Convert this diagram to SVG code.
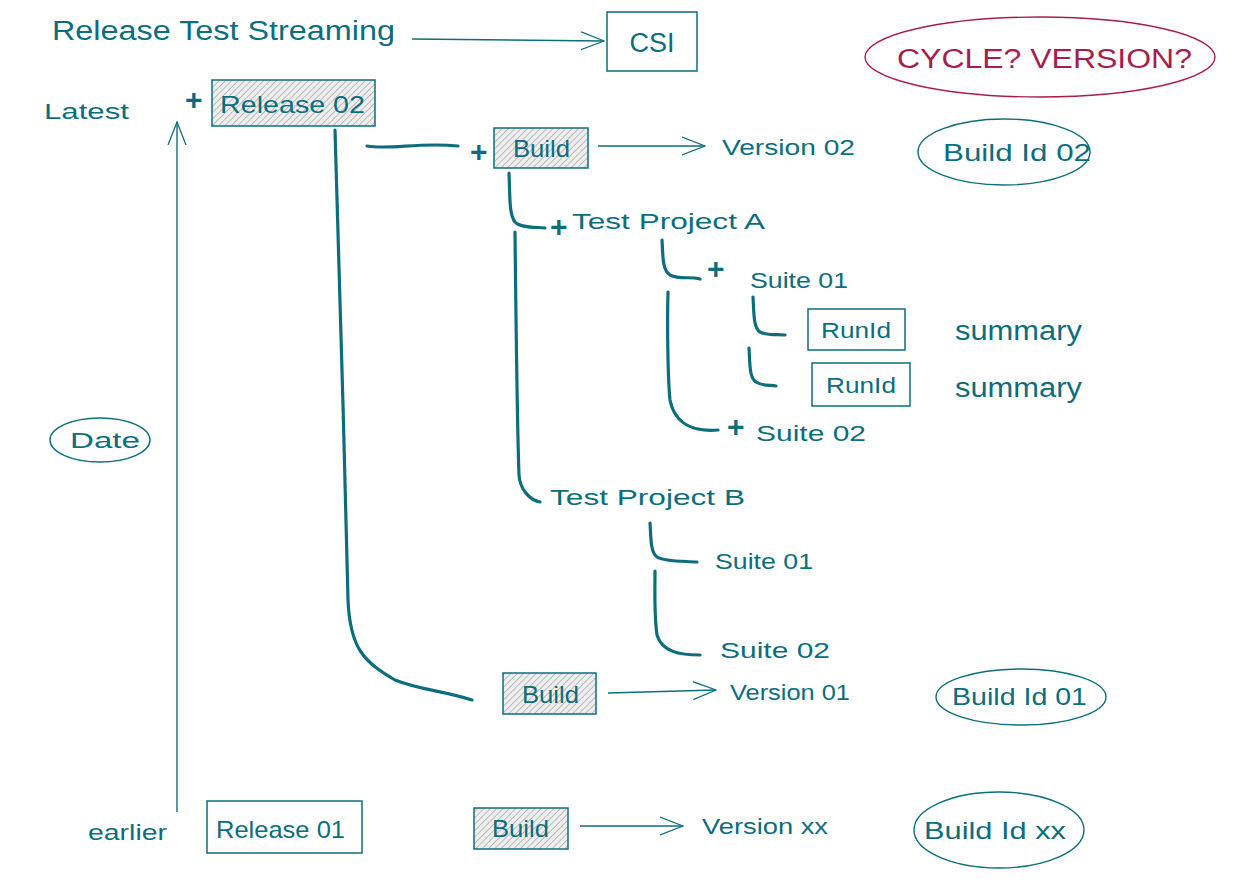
<svg xmlns="http://www.w3.org/2000/svg" width="1253" height="883" viewBox="0 0 1253 883">
<defs>
<pattern id="hatch" patternUnits="userSpaceOnUse" width="4.5" height="4.5" patternTransform="rotate(45)">
<rect width="4.5" height="4.5" fill="#eeeeee"/>
<line x1="0" y1="0" x2="0" y2="4.5" stroke="#8a8a8a" stroke-width="1"/>
</pattern>
<marker id="arr" viewBox="0 0 24 24" refX="23" refY="12" markerWidth="24" markerHeight="24" markerUnits="userSpaceOnUse" orient="auto">
<path d="M0,3 L23,12 L0,21" fill="none" stroke="#0c6e7d" stroke-width="1.3"/>
</marker>
</defs>
<style>
text{font-family:"Liberation Sans","DejaVu Sans",sans-serif;fill:#0c6e7d}
.t22{font-size:22px}
.t24{font-size:24px}
.t26{font-size:27px}
.box{fill:none;stroke:#0c6e7d;stroke-width:1.5}
.hb{fill:url(#hatch);stroke:#0c6e7d;stroke-width:1.5}
.ell{fill:none;stroke:#0c6e7d;stroke-width:1.4}
.thick{fill:none;stroke:#0c6e7d;stroke-width:3.2;stroke-linecap:round;stroke-linejoin:round}
.thin{fill:none;stroke:#0c6e7d;stroke-width:1.4}
.plus{font-size:30px;font-weight:bold}
</style>
<rect width="1253" height="883" fill="#ffffff"/>

<g id="connectors">
<path class="thin" d="M412,39 L604,41" marker-end="url(#arr)"/>
<path class="thin" d="M177,812 L177,122" marker-end="url(#arr)"/>
<path class="thin" d="M598,146 L705,146" marker-end="url(#arr)"/>
<path class="thin" d="M608,693 L716,690" marker-end="url(#arr)"/>
<path class="thin" d="M580,826 L683,826" marker-end="url(#arr)"/>
<path class="thick" d="M335,130 C338,250 345,450 348,600 C350,650 365,662 395,680 C420,690 440,690 472,700"/>
<path class="thick" d="M367,146 C390,150 420,142 458,146"/>
<path class="thick" d="M509,173 C510,195 509,215 515,222 C520,228 535,227 545,228"/>
<path class="thick" d="M515,232 C516,320 517,420 519,475 C520,490 530,500 540,502"/>
<path class="thick" d="M662,240 C663,255 662,270 670,275 C680,280 690,276 700,279"/>
<path class="thick" d="M668,292 C667,330 668,380 670,400 C675,425 695,432 718,430"/>
<path class="thick" d="M753,297 C754,310 753,328 760,332 C768,336 778,334 785,335"/>
<path class="thick" d="M749,348 C750,362 749,378 756,382 C762,386 770,385 776,386"/>
<path class="thick" d="M650,523 C651,535 650,552 657,557 C665,562 685,561 697,562"/>
<path class="thick" d="M655,571 C655,590 654,615 657,635 C662,652 680,655 700,655"/>
</g>

<g id="title"><text class="t26" x="52" y="40" textLength="343" lengthAdjust="spacingAndGlyphs">Release Test Streaming</text></g>
<g id="csi"><rect class="box" x="607" y="12" width="90" height="59"/><text class="t26" x="652" y="52" text-anchor="middle">CSI</text></g>
<g id="cycle"><ellipse cx="1040" cy="57" rx="175" ry="40" fill="none" stroke="#a61e4d" stroke-width="1.4"/><text class="t26" x="897" y="68" textLength="295" lengthAdjust="spacingAndGlyphs" style="fill:#a61e4d">CYCLE? VERSION?</text></g>
<g id="latest"><text class="t22" x="44" y="119" textLength="85" lengthAdjust="spacingAndGlyphs">Latest</text></g>
<g id="release02"><text class="plus" x="185" y="110">+</text><rect class="hb" x="212" y="80" width="163" height="46"/><text class="t24" x="220" y="113" textLength="145" lengthAdjust="spacingAndGlyphs">Release 02</text></g>
<g id="date"><ellipse class="ell" cx="100" cy="440" rx="50" ry="22"/><text class="t22" x="70" y="448" textLength="70" lengthAdjust="spacingAndGlyphs">Date</text></g>
<g id="build02"><text class="plus" x="470" y="162">+</text><rect class="hb" x="494" y="128" width="94" height="40"/><text class="t24" x="513" y="157" textLength="57" lengthAdjust="spacingAndGlyphs">Build</text></g>
<g id="version02"><text class="t22" x="722" y="155" textLength="133" lengthAdjust="spacingAndGlyphs">Version 02</text></g>
<g id="buildid02"><ellipse class="ell" cx="1004" cy="152" rx="86" ry="33"/><text class="t24" x="943" y="161" textLength="148" lengthAdjust="spacingAndGlyphs">Build Id 02</text></g>
<g id="projA"><text class="plus" x="550" y="237">+</text><text class="t22" x="572" y="229" textLength="193" lengthAdjust="spacingAndGlyphs">Test Project A</text></g>
<g id="suiteA1"><text class="plus" x="707" y="279">+</text><text class="t22" x="750" y="288" textLength="98" lengthAdjust="spacingAndGlyphs">Suite 01</text></g>
<g id="run1"><rect class="box" x="808" y="309" width="97" height="41"/><text class="t22" x="821" y="338" textLength="70" lengthAdjust="spacingAndGlyphs">RunId</text></g>
<g id="sum1"><text class="t26" x="955" y="340" textLength="127" lengthAdjust="spacingAndGlyphs">summary</text></g>
<g id="run2"><rect class="box" x="812" y="363" width="98" height="43"/><text class="t22" x="826" y="393" textLength="70" lengthAdjust="spacingAndGlyphs">RunId</text></g>
<g id="sum2"><text class="t26" x="955" y="397" textLength="127" lengthAdjust="spacingAndGlyphs">summary</text></g>
<g id="suiteA2"><text class="plus" x="727" y="437">+</text><text class="t22" x="756" y="441" textLength="110" lengthAdjust="spacingAndGlyphs">Suite 02</text></g>
<g id="projB"><text class="t22" x="550" y="505" textLength="195" lengthAdjust="spacingAndGlyphs">Test Project B</text></g>
<g id="suiteB1"><text class="t22" x="715" y="569" textLength="98" lengthAdjust="spacingAndGlyphs">Suite 01</text></g>
<g id="suiteB2"><text class="t22" x="720" y="658" textLength="110" lengthAdjust="spacingAndGlyphs">Suite 02</text></g>
<g id="build01"><rect class="hb" x="503" y="673" width="93" height="41"/><text class="t24" x="522" y="703" textLength="57" lengthAdjust="spacingAndGlyphs">Build</text></g>
<g id="version01"><text class="t22" x="730" y="700" textLength="120" lengthAdjust="spacingAndGlyphs">Version 01</text></g>
<g id="buildid01"><ellipse class="ell" cx="1021" cy="697" rx="85" ry="28"/><text class="t24" x="952" y="705" textLength="135" lengthAdjust="spacingAndGlyphs">Build Id 01</text></g>
<g id="earlier"><text class="t22" x="88" y="840" textLength="79" lengthAdjust="spacingAndGlyphs">earlier</text></g>
<g id="release01"><rect class="box" x="207" y="801" width="155" height="52"/><text class="t24" x="216" y="838" textLength="129" lengthAdjust="spacingAndGlyphs">Release 01</text></g>
<g id="buildxx"><rect class="hb" x="474" y="808" width="94" height="41"/><text class="t24" x="492" y="837" textLength="57" lengthAdjust="spacingAndGlyphs">Build</text></g>
<g id="versionxx"><text class="t22" x="702" y="834" textLength="126" lengthAdjust="spacingAndGlyphs">Version xx</text></g>
<g id="buildidxx"><ellipse class="ell" cx="999" cy="830" rx="85" ry="38"/><text class="t24" x="924" y="839" textLength="142" lengthAdjust="spacingAndGlyphs">Build Id xx</text></g>
</svg>
